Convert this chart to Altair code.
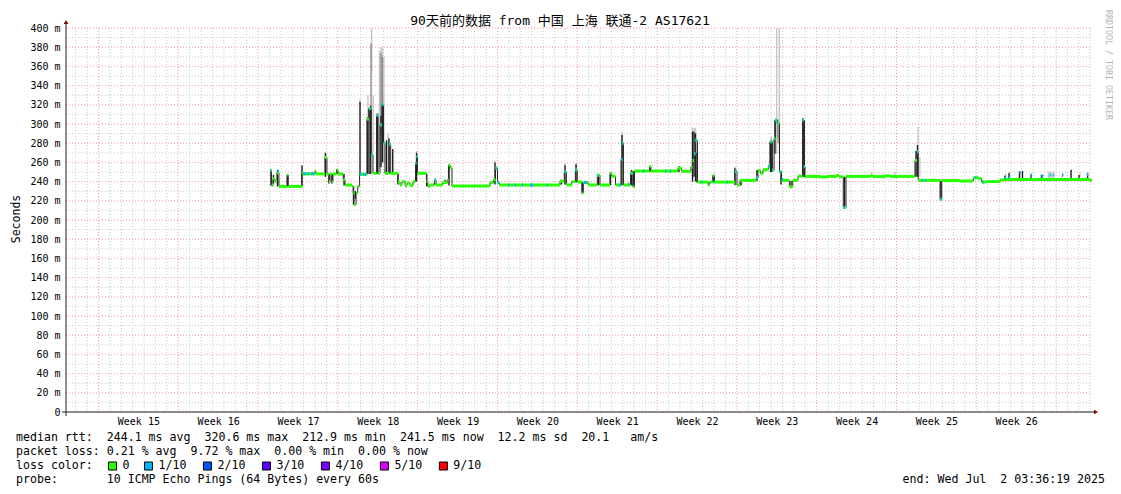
import altair as alt
import pandas as pd

# ---------------- data ----------------
END_TS = "2025-07-02 03:36:19"
SPAN_DAYS = 90

TITLE = "90天前的数据 from 中国 上海 联通-2 AS17621"

# median rtt, step series: day offset from graph start, value in ms
med_day = [17.96, 18.03, 18.16, 18.33, 18.51, 18.68, 19.41, 19.50, 20.68, 20.76,
           21.84, 21.93, 22.72, 22.89, 23.07, 23.16, 23.33, 23.42, 23.75, 23.86,
           24.32, 24.47, 25.09, 25.20, 25.26, 25.44, 25.59, 25.75, 26.40, 26.58,
           26.78, 26.93, 27.24, 27.37, 27.54, 27.72, 27.85, 27.98, 28.36, 28.48,
           29.12, 29.30, 29.47, 29.74, 29.91, 30.18, 30.44, 30.66, 30.75, 30.83,
           31.62, 31.74, 31.89, 32.32, 32.46, 33.03, 33.46, 33.55, 33.70, 33.86,
           37.19, 37.50, 37.68, 37.85, 38.03, 43.33, 43.71, 43.89, 44.36, 44.68,
           44.85, 45.26, 45.38, 45.82, 46.61, 46.84, 47.72, 47.87, 48.20, 48.68,
           48.80, 48.90, 49.52, 49.74, 49.87, 51.18, 51.32, 53.68, 54.01, 54.82,
           54.96, 55.09, 55.22, 55.39, 56.32, 56.45, 56.75, 56.89, 58.68, 58.86,
           59.12, 60.57, 60.70, 60.92, 61.14, 61.61, 61.75, 61.96, 62.11, 62.22,
           62.39, 62.59, 62.76, 63.45, 63.75, 64.21, 64.61, 64.72, 64.82, 66.14,
           66.75, 67.59, 67.81, 68.18, 68.42, 70.53, 70.79, 71.84, 72.28, 74.47,
           74.65, 74.76, 76.67, 76.82, 78.42, 79.59, 80.03, 80.32, 80.76, 81.93,
           82.37, 89.82]
med_ms = [251, 236, 243, 240, 249, 235, 247, 235, 249, 248,
          251, 248, 265, 248, 240, 248, 240, 248, 252, 248,
          242, 236.5, 235, 228, 216, 228, 235, 247.6, 305, 316,
          268, 248.6, 309, 248.6, 299, 320, 280, 248.6, 278.6, 248.6,
          239.5, 236.5, 240, 236, 238.5, 236, 240, 259, 266, 248.6,
          240, 235, 236.5, 241.7, 236.5, 239, 242, 257, 254, 235.5,
          239, 242, 254, 239, 236.5, 240.3, 250.3, 236.5, 240, 252,
          239.6, 228, 239, 236.5, 246.5, 236.5, 248.6, 245.5, 236.5, 263,
          280, 236.5, 248.6, 234.7, 251, 255.6, 251, 254, 250.7, 255,
          262, 269, 283, 239.5, 236.5, 239.5, 246.5, 239.5, 250.5, 236.5,
          241.3, 244, 251.5, 248.6, 252.4, 256, 281.6, 252, 285, 304,
          300.7, 250.3, 241.3, 234.7, 241.3, 245.7, 304, 255.6, 245.4, 244.8,
          245.4, 246.5, 245, 213, 245.4, 246, 245.2, 246, 245.4, 262,
          271, 241.3, 221.5, 241, 240.6, 244.1, 243, 239.6, 240, 241.7,
          242.2, 241.5]

# stretches of the median drawn in the 1/10 loss colour
loss_start = [17.94, 18.55, 20.83, 21.18, 21.49, 25.83, 26.10, 26.58, 26.78, 27.24,
              27.54, 27.72, 27.85, 28.38, 30.66, 30.75, 32.32, 37.68, 37.85, 38.77,
              39.34, 39.96, 40.70, 42.15, 43.71, 44.68, 45.44, 46.61, 48.51, 48.68,
              48.80, 49.30, 49.68, 50.61, 52.54, 52.98, 55.09, 55.20, 55.73, 56.80,
              57.94, 58.73, 60.57, 61.58, 61.80, 61.96, 62.19, 62.39, 62.59, 62.81,
              64.61, 64.72, 68.20, 74.63, 75.04, 75.35, 76.69, 79.74, 80.39, 82.37,
              82.72, 83.64, 84.61, 85.57, 86.27, 86.54, 87.37, 89.56]
loss_end = [18.03, 18.68, 21.05, 21.32, 21.75, 25.96, 26.32, 26.69, 26.89, 27.35,
            27.66, 27.82, 27.96, 28.48, 30.75, 30.83, 32.44, 37.79, 37.98, 38.89,
            39.47, 40.09, 40.99, 42.26, 43.82, 44.78, 45.70, 46.71, 48.62, 48.80,
            48.89, 49.41, 49.76, 50.73, 52.66, 53.10, 55.20, 55.31, 55.83, 56.91,
            58.05, 58.84, 60.68, 61.69, 61.91, 62.06, 62.31, 62.50, 62.70, 62.92,
            64.72, 64.82, 68.33, 74.74, 75.16, 75.46, 76.80, 79.85, 80.51, 82.48,
            82.83, 83.75, 84.72, 85.75, 86.39, 86.65, 87.50, 89.68]
loss_ms = [252, 251, 248.3, 248.3, 248.3, 247.6, 247.6, 316, 268, 309,
           299, 320, 280, 278.6, 259, 266, 241.7, 254, 239, 236.5,
           236.5, 236.5, 236.5, 236.5, 250.3, 252, 239, 246.5, 236.5, 263,
           280, 237.5, 248.6, 251, 251, 251, 269, 283, 239.5, 239.5,
           239.5, 250.5, 244, 256, 281.6, 252, 304, 300.7, 250.3, 242.5,
           304, 255.6, 213, 271, 241.3, 241.3, 221.5, 244, 239.6, 244,
           245, 249, 246, 246, 247, 247, 247, 247]

# dense smoke (most pings)
dark_day = [17.98, 18.20, 18.55, 19.41, 20.70, 22.76, 23.07, 23.33, 23.77, 24.39,
            25.22, 25.39, 25.79, 26.45, 26.58, 26.73, 27.32, 27.63, 27.76, 28.11,
            28.33, 28.66, 29.12, 30.75, 31.64, 33.25, 33.60, 37.63, 43.46, 43.77,
            44.74, 45.29, 46.71, 47.76, 48.77, 49.61, 49.76, 51.23, 53.77, 54.96,
            55.09, 55.22, 55.35, 56.78, 58.68, 59.21, 60.61, 61.80, 61.91, 62.19,
            62.72, 63.60, 64.65, 64.76, 68.29, 74.56, 74.69, 76.75, 82.37, 82.72,
            83.64, 83.90, 84.65, 85.57, 88.16, 88.86, 89.61]
dark_lo = [236, 238, 235, 235, 235, 245, 238, 238, 248, 236,
           216, 222, 247, 248, 248, 248, 248, 255, 260, 248,
           248, 248, 237, 240, 235, 239, 236, 237, 237, 237,
           239, 228, 236, 236, 236, 236, 234.7, 250, 250, 240,
           245, 240, 239, 239, 236.5, 236, 241, 250, 250, 269,
           237, 233, 245, 245, 212.9, 245, 245, 220.8, 242, 242,
           242, 242, 242, 242, 242, 242, 242]
dark_hi = [252, 247, 252, 247, 257, 270, 248, 248, 253, 248,
           235, 230, 323, 307, 316, 319, 311, 308, 320, 283,
           285, 274, 248, 270, 248, 242, 257, 260, 242, 257,
           258, 239, 247, 250, 288.5, 252, 251, 256, 256, 292,
           292, 290, 270, 246.5, 254, 241, 252, 282, 282, 304,
           251, 241, 306, 304, 245, 272, 278, 241, 246, 248.6,
           250.6, 251, 247.6, 247, 252, 247, 248.6]

# medium smoke
mid_day = [26.76, 27.63, 27.76, 62.44, 62.47]
mid_lo = [310, 290, 300, 286, 280]
mid_hi = [384, 374, 370, 305, 300]

# light smoke (outlier pings)
smoke_day = [25.79, 26.49, 26.80, 26.95, 27.50, 27.63, 27.76, 27.89, 28.25, 30.75,
             33.60, 37.63, 43.77, 44.74, 46.71, 48.77, 54.96, 55.09, 55.22, 55.35,
             58.68, 61.84, 62.34, 62.57, 70.68, 71.69, 72.72, 74.74, 74.90, 82.41,
             82.76, 84.69, 86.18, 86.32, 86.49, 86.67, 87.37, 88.20, 88.95, 89.61]
smoke_lo = [320, 300, 355, 270, 255, 255, 260, 260, 250, 268,
            255, 258, 255, 255, 245, 280, 285, 285, 285, 265,
            250, 280, 269, 269, 245, 245, 245, 270, 245, 245,
            247, 246, 240, 240, 240, 240, 243, 251, 245, 247]
smoke_hi = [326, 330, 400, 330, 376, 380, 380, 370, 290, 272,
            259, 262, 259, 260, 248, 292, 296, 296, 296, 280,
            256, 287, 400, 400, 250, 249, 250, 297, 265, 248,
            250, 249, 250.6, 250.6, 250.6, 250.6, 247, 253, 249, 250]

# y tick values and legend
y_ticks = list(range(0, 401, 10))
rtt_stats = [244.1, 320.6, 212.9, 241.5, 12.2]
am_s = 20.1
loss_stats = [0.21, 9.72, 0.00, 0.00]
loss_labels = ["0", "1/10", "2/10", "3/10", "4/10", "5/10", "9/10"]
loss_colors = ["#26ff00", "#00b8ff", "#0059ff", "#5e00ff", "#7e00ff", "#dd00ff", "#ff0000"]
probe_text = "10 ICMP Echo Pings (64 Bytes) every 60s"
end_text = "end: Wed Jul  2 03:36:19 2025"

# ---------------- build ----------------
DAY = 86400000
END = pd.Timestamp(END_TS, tz="UTC")
START = END - pd.Timedelta(days=SPAN_DAYS)
END_MS = int(END.value // 10**6)
START_MS = int(START.value // 10**6)


def ts(days):
    return [START_MS + d * DAY for d in days]


W, H = 1026, 384
MONO = "DejaVu Sans Mono"
MAJOR = "#f59a9a"
MINOR = "#c8c8c8"
GREEN = loss_colors[0]
CYAN = loss_colors[1]
NB = "\u00a0"
DASH = [1, 2]


def nb(s):
    return s.replace(" ", NB)


# calendar grid: every midnight, Sundays as major lines
midnights = pd.date_range(START.ceil("D"), END, freq="D")
vgrid_df = pd.DataFrame({"t": [int(m.value // 10**6) for m in midnights],
                         "major": [m.dayofweek == 6 for m in midnights]})
hgrid_df = pd.DataFrame({"v": y_ticks, "major": [v % 20 == 0 for v in y_ticks]})

med_t = ts(med_day)
med_df = pd.DataFrame({"t": med_t, "t2": med_t[1:] + [END_MS], "v": med_ms})
trans_df = pd.DataFrame({
    "t": med_t[1:],
    "v": [min(a, b) for a, b in zip(med_ms[:-1], med_ms[1:])],
    "v2": [max(a, b) for a, b in zip(med_ms[:-1], med_ms[1:])],
})
loss_df = pd.DataFrame({"t": ts(loss_start), "t2": ts(loss_end), "v": loss_ms})
dark_df = pd.DataFrame({"t": ts(dark_day), "v": dark_lo, "v2": dark_hi})
mid_df = pd.DataFrame({"t": ts(mid_day), "v": mid_lo, "v2": mid_hi})
smoke_df = pd.DataFrame({"t": ts(smoke_day), "v": smoke_lo, "v2": smoke_hi})

x_axis = alt.Axis(
    title=None,
    tickCount={"interval": "day", "step": 1},
    grid=False,
    domain=False,
    ticks=False,
    labelExpr=(f"utcday(datum.value) == 3 && time(datum.value) + {DAY // 2} <= {END_MS}"
               " ? 'Week ' + utcFormat(datum.value, '%V') : ''"),
    labelOffset=W / SPAN_DAYS / 2,
    labelAlign="center",
    labelOverlap=False,
    labelFlush=False,
    labelBound=False,
    labelFont=MONO,
    labelFontSize=10,
    labelColor="#000000",
    labelPadding=4,
)
y_axis = alt.Axis(
    title=None,
    values=y_ticks,
    grid=False,
    domain=False,
    ticks=False,
    labelExpr=("datum.value % 20 != 0 ? '' : (datum.value == 0 ? '0" + NB + NB +
               "' : datum.value + '" + NB + "m')"),
    labelOverlap=False,
    labelFlush=False,
    labelBound=False,
    labelFont=MONO,
    labelFontSize=10,
    labelColor="#000000",
    labelPadding=6,
)

X_SCALE = alt.Scale(type="utc", domain=[START_MS, END_MS], nice=False)
Y_SCALE = alt.Scale(domain=[0, 400], nice=False)
X = alt.X("t:T", scale=X_SCALE, axis=x_axis)
Y = alt.Y("v:Q", scale=Y_SCALE, axis=y_axis)

grid_color = alt.condition("datum.major", alt.value(MAJOR), alt.value(MINOR))
vgrid = alt.Chart(vgrid_df).mark_rule(strokeDash=DASH, strokeWidth=1).encode(
    x=X, y=alt.value(0), y2=alt.value(H), color=grid_color)
hgrid = alt.Chart(hgrid_df).mark_rule(strokeDash=DASH, strokeWidth=1).encode(
    y=Y, x=alt.value(0), x2=alt.value(W), color=grid_color)

smoke_layer = alt.Chart(smoke_df).mark_rule(color="#c6c6c6", strokeWidth=1.4).encode(x=X, y=Y, y2="v2:Q")
mid_layer = alt.Chart(mid_df).mark_rule(color="#8e8e8e", strokeWidth=1.4).encode(x=X, y=Y, y2="v2:Q")
dark_layer = alt.Chart(dark_df).mark_rule(color="#1e1e1e", strokeWidth=1.4).encode(x=X, y=Y, y2="v2:Q")
trans_layer = alt.Chart(trans_df).mark_rule(color="#2a2a2a", strokeWidth=1).encode(x=X, y=Y, y2="v2:Q")
med_layer = alt.Chart(med_df).mark_rule(color=GREEN, strokeWidth=3).encode(x=X, x2="t2:T", y=Y)
loss_layer = alt.Chart(loss_df).mark_rule(color=CYAN, strokeWidth=3).encode(x=X, x2="t2:T", y=Y)

one = pd.DataFrame({"k": [0]})
AXIS_C = "#202020"
ARROW_C = "#7f0000"

xline = alt.Chart(one).mark_rule(color=AXIS_C, strokeWidth=1).encode(
    x=alt.value(-4), x2=alt.value(W + 3), y=alt.value(H))
yline = alt.Chart(one).mark_rule(color=AXIS_C, strokeWidth=1).encode(
    x=alt.value(0), y=alt.value(-4), y2=alt.value(H + 4))
yarrow = alt.Chart(one).mark_point(shape="triangle-up", filled=True, color=ARROW_C, size=22, opacity=1).encode(
    x=alt.value(0), y=alt.value(-6))
xarrow = alt.Chart(one).mark_point(shape="triangle-right", filled=True, color=ARROW_C, size=22, opacity=1).encode(
    x=alt.value(W + 4), y=alt.value(H))

title = alt.Chart(one).mark_text(font=MONO + ", Noto Sans CJK SC", fontSize=13, color="#000000",
                                 align="center", baseline="middle").encode(
    x=alt.value(494), y=alt.value(-7), text=alt.value(TITLE))
ytitle = alt.Chart(one).mark_text(font=MONO, fontSize=11.5, color="#000000", angle=270,
                                  align="center", baseline="middle").encode(
    x=alt.value(-49), y=alt.value(191), text=alt.value("Seconds"))
credit = alt.Chart(one).mark_text(font=MONO, fontSize=8.3, color="#b4b4b4", angle=90,
                                  align="center", baseline="middle").encode(
    x=alt.value(1042), y=alt.value(37), text=alt.value("RRDTOOL / TOBI OETIKER"))

line1 = (f"median rtt:  {rtt_stats[0]:.1f} ms avg  {rtt_stats[1]:.1f} ms max  "
         f"{rtt_stats[2]:.1f} ms min  {rtt_stats[3]:.1f} ms now  {rtt_stats[4]:.1f} ms sd  "
         f"{am_s:.1f}   am/s")
line2 = (f"packet loss: {loss_stats[0]:.2f} % avg  {loss_stats[1]:.2f} % max  "
         f"{loss_stats[2]:.2f} % min  {loss_stats[3]:.2f} % now")
line3 = "loss color:"
line4 = "probe:       " + probe_text

LEG_FS = 11.6
legend_layers = []
for i, s in enumerate([line1, line2, line3, line4]):
    legend_layers.append(
        alt.Chart(one).mark_text(font=MONO, fontSize=LEG_FS, color="#000000", align="left",
                                 baseline="middle").encode(
            x=alt.value(-50), y=alt.value(410 + 14 * i), text=alt.value(nb(s))))
legend_layers.append(
    alt.Chart(one).mark_text(font=MONO, fontSize=LEG_FS, color="#000000", align="right",
                             baseline="middle").encode(
        x=alt.value(1039), y=alt.value(452), text=alt.value(nb(end_text))))

# loss colour swatches laid out after "loss color:"
sx, lx = [], []
left = 42.0
for lab in loss_labels:
    sx.append(left + 4.5)
    lx.append(left + 14.5)
    left += 28.3 + 7.67 * len(lab)
sw_df = pd.DataFrame({"label": loss_labels, "color": loss_colors, "sx": sx, "lx": lx})
swatch = alt.Chart(sw_df).mark_square(size=64, filled=True, stroke="#000000", strokeWidth=1, opacity=1).encode(
    x=alt.X("sx:Q", scale=None), y=alt.value(438), fill=alt.Color("color:N", scale=None))
sw_text = alt.Chart(sw_df).mark_text(font=MONO, fontSize=LEG_FS, color="#000000", align="left",
                                     baseline="middle").encode(
    x=alt.X("lx:Q", scale=None), y=alt.value(438), text="label:N")

chart = alt.layer(
    vgrid, hgrid,
    smoke_layer, mid_layer, dark_layer, trans_layer, med_layer, loss_layer,
    xline, yline, yarrow, xarrow, title, ytitle, credit, *legend_layers, swatch, sw_text,
).properties(
    width=W, height=H,
    padding={"left": 58, "top": 20, "right": 21, "bottom": 74},
    autosize=alt.AutoSizeParams(type="none"),
    background="white",
).configure_view(stroke=None)

chart.save("out.html", embed_options={"renderer": "svg", "actions": False})
